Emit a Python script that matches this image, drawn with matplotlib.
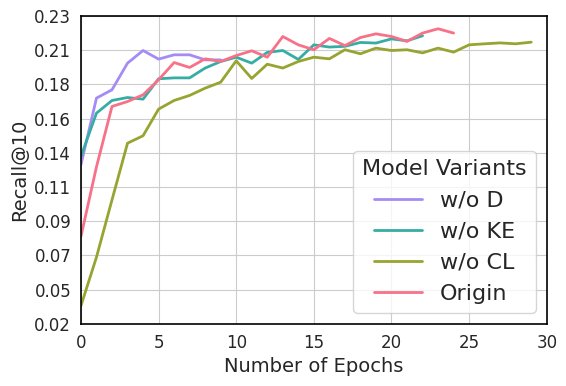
import numpy as np
import seaborn as sns
from matplotlib import pyplot as plt

# Recall@10 per epoch
wo_d = [0.1294, 0.1742, 0.1798, 0.1977, 0.2062, 0.2004, 0.2033, 0.2033, 0.1999, 0.1999]
wo_ke = [0.1350, 0.1641, 0.1726, 0.1746, 0.1735, 0.1872, 0.1878, 0.1878, 0.1944, 0.1988,
         0.2017, 0.1977, 0.2049, 0.2062, 0.2002, 0.2100, 0.2085, 0.2090, 0.2116, 0.2112,
         0.2140, 0.2127, 0.2161]
wo_cl = [0.0346, 0.0673, 0.1058, 0.1439, 0.1489, 0.1668, 0.1726, 0.1760, 0.1809, 0.1849,
         0.1993, 0.1874, 0.1970, 0.1944, 0.1988, 0.2017, 0.2006, 0.2067, 0.2040, 0.2078,
         0.2062, 0.2067, 0.2046, 0.2078, 0.2051, 0.2100, 0.2107, 0.2113, 0.2107, 0.2118]
origin = [0.0812, 0.1280, 0.1686, 0.1719, 0.1764, 0.1865, 0.1981, 0.1948, 0.2006, 0.1988,
          0.2028, 0.2060, 0.2017, 0.2156, 0.2100, 0.2067, 0.2143, 0.2095, 0.2149, 0.2174,
          0.2156, 0.2123, 0.2179, 0.2208, 0.2179]

labels = ["w/o D", "w/o KE", "w/o CL", "Origin"]
series = [wo_d, wo_ke, wo_cl, origin]

sns.set_style("whitegrid")
plt.rcParams["font.family"] = ["DejaVu Sans"]
plt.rcParams["axes.edgecolor"] = "black"

colors = sns.husl_palette(4)[::-1]

fig = plt.figure(figsize=(5.66, 3.86), dpi=100)
ax = fig.add_axes([0.143, 0.161, 0.823, 0.798])

for vals, lab, col in zip(series, labels, colors):
    ax.plot(np.arange(len(vals)), vals, color=col, lw=2, label=lab)

ax.set_xlim(0, 30)
ymin, ymax = 0.0225, 0.2295
ax.set_ylim(ymin, ymax)
ax.set_yticks(np.linspace(ymin, ymax, 10))
ax.yaxis.set_major_formatter(plt.FormatStrFormatter("%.2f"))
ax.tick_params(labelsize=12, colors="#262626")
ax.set_xlabel("Number of Epochs", fontsize=14, color="#262626")
ax.set_ylabel("Recall@10", fontsize=14, color="#262626")
for sp in ax.spines.values():
    sp.set_color("black")
    sp.set_linewidth(1.2)

leg = ax.legend(title="Model Variants", loc="lower right", fontsize=16,
                title_fontsize=16, handlelength=2.2)

fig.savefig("out.png", dpi=100)
